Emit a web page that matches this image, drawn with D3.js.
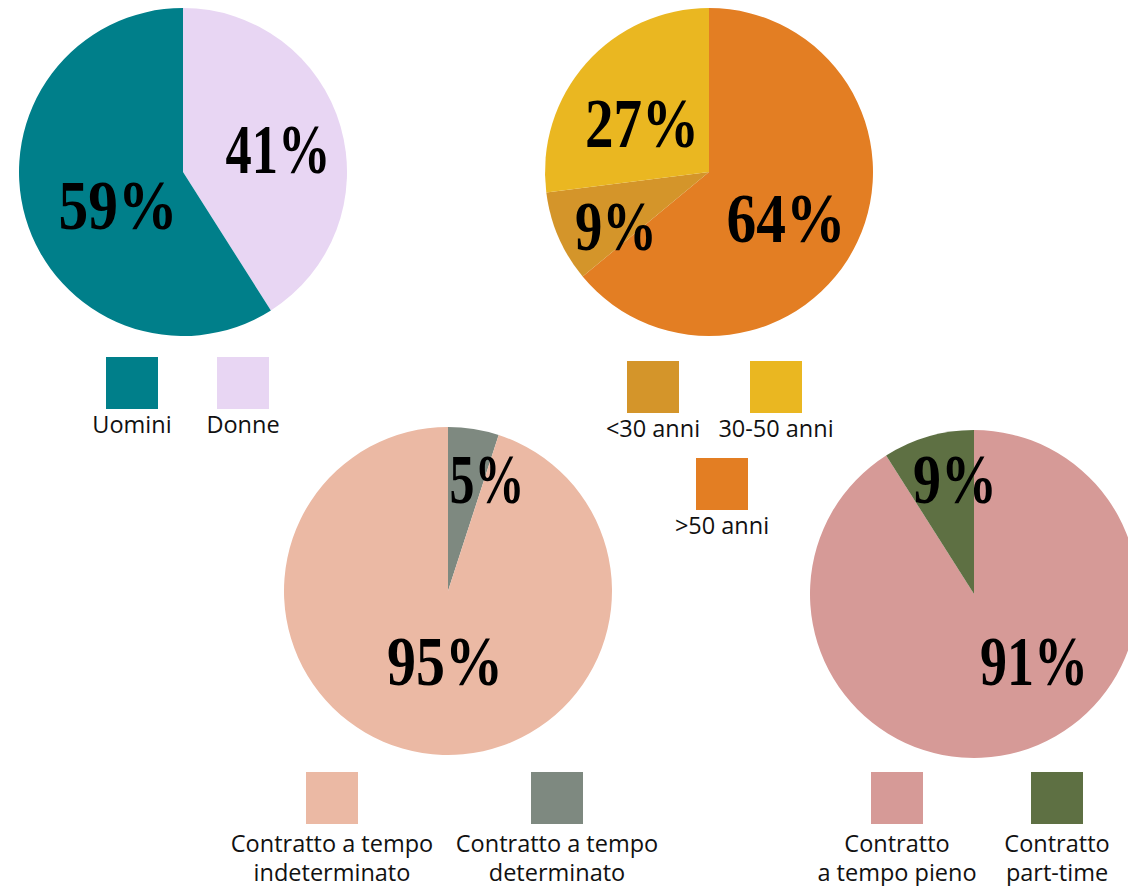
<!DOCTYPE html>
<html>
<head>
<meta charset="utf-8">
<script src="https://cdn.jsdelivr.net/npm/d3@7"></script>
<style>
  html, body { margin: 0; padding: 0; background: #fff; overflow: hidden; }
  svg { display: block; }
  .pct { font-family: "Liberation Serif", "DejaVu Serif", serif; font-weight: bold; fill: #000; }
  .leg { font-family: "Open Sans", "Noto Sans", sans-serif; font-size: 23.5px; fill: #111; }
</style>
</head>
<body>
<svg id="chart" width="1128" height="886"></svg>
<script>
// Workforce breakdown: gender, age, contract type, working time
const genderLabels = ["Donne", "Uomini"];
const genderValues = [41, 59];
const genderColors = ["#E8D6F3", "#007F8A"];

const ageLabels = [">50 anni", "<30 anni", "30-50 anni"];
const ageValues = [64, 9, 27];
const ageColors = ["#E37E23", "#D4952A", "#EAB721"];

const contractLabels = ["Contratto a tempo determinato", "Contratto a tempo indeterminato"];
const contractValues = [5, 95];
const contractColors = ["#7E8980", "#EBB9A4"];

const timeLabels = ["Contratto a tempo pieno", "Contratto part-time"];
const timeValues = [91, 9];
const timeColors = ["#D69A97", "#5E7043"];

// Layout of each pie: centre, label anchors (dx, baseline dy, width), legend entries
const charts = [
  {
    values: genderValues, colors: genderColors, cx: 183, cy: 172,
    labels: [{ dx: 95, dy: 1, w: 105 }, { dx: -65, dy: 57, w: 119 }],
    legend: [
      { i: 1, x: 106, y: 357, lines: ["Uomini"], ty: 433 },
      { i: 0, x: 217, y: 357, lines: ["Donne"], ty: 433 }
    ]
  },
  {
    values: ageValues, colors: ageColors, cx: 709, cy: 172,
    labels: [{ dx: 77, dy: 70, w: 119 }, { dx: -93, dy: 78, w: 82 }, { dx: -67, dy: -25, w: 114 }],
    legend: [
      { i: 1, x: 627, y: 361, lines: ["<30 anni"], ty: 437 },
      { i: 2, x: 750, y: 361, lines: ["30-50 anni"], ty: 437 },
      { i: 0, x: 696, y: 458, lines: [">50 anni"], ty: 534 }
    ]
  },
  {
    values: contractValues, colors: contractColors, cx: 448, cy: 591,
    labels: [{ dx: 39, dy: -88, w: 75 }, { dx: -3, dy: 94, w: 116 }],
    legend: [
      { i: 1, x: 306, y: 772, lines: ["Contratto a tempo", "indeterminato"], ty: 852 },
      { i: 0, x: 531, y: 772, lines: ["Contratto a tempo", "determinato"], ty: 852 }
    ]
  },
  {
    values: timeValues, colors: timeColors, cx: 974, cy: 594,
    labels: [{ dx: 60, dy: 91, w: 108 }, { dx: -19, dy: -91, w: 84 }],
    legend: [
      { i: 0, x: 871, y: 772, lines: ["Contratto", "a tempo pieno"], ty: 852 },
      { i: 1, x: 1031, y: 772, lines: ["Contratto", "part-time"], ty: 852 }
    ]
  }
];

const svg = d3.select("#chart");
const radius = 164;
const pie = d3.pie().sort(null).value(d => d);
const arc = d3.arc().innerRadius(0).outerRadius(radius);
const sq = 52;
const lineStep = 28.5;

charts.forEach(c => {
  const g = svg.append("g").attr("transform", `translate(${c.cx},${c.cy})`);
  const arcs = pie(c.values);

  g.selectAll("path.slice")
    .data(arcs)
    .join("path")
    .attr("class", "slice")
    .attr("d", arc)
    .attr("fill", (d, i) => c.colors[i]);

  g.selectAll("text.pct")
    .data(arcs)
    .join("text")
    .attr("class", "pct")
    .attr("x", (d, i) => c.labels[i].dx)
    .attr("y", (d, i) => c.labels[i].dy)
    .attr("text-anchor", "middle")
    .attr("font-size", 70)
    .attr("textLength", (d, i) => c.labels[i].w)
    .attr("lengthAdjust", "spacingAndGlyphs")
    .text(d => d.data + "%");

  const lg = svg.append("g");
  c.legend.forEach(e => {
    lg.append("rect")
      .attr("x", e.x).attr("y", e.y)
      .attr("width", sq).attr("height", sq)
      .attr("fill", c.colors[e.i]);
    e.lines.forEach((line, k) => {
      lg.append("text")
        .attr("class", "leg")
        .attr("text-anchor", "middle")
        .attr("x", e.x + sq / 2)
        .attr("y", e.ty + k * lineStep)
        .text(line);
    });
  });
});
</script>
</body>
</html>
